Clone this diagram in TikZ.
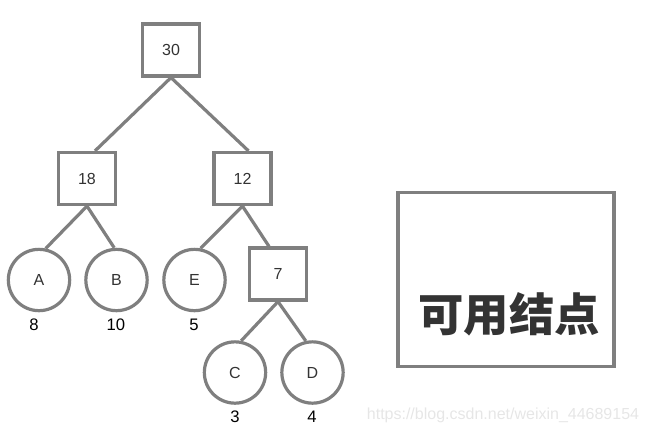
\documentclass[tikz,border=0pt]{standalone}
\usepackage{fontspec}
\setmainfont{Liberation Sans}
\newfontfamily\cjk{Noto Sans CJK SC}
\definecolor{edgegray}{HTML}{7F7F7F}
\definecolor{txt}{HTML}{333333}
\definecolor{wm}{HTML}{E6E6E6}
\begin{document}
\begin{tikzpicture}[x=0.75pt,y=-0.75pt,
  sq/.style={draw=edgegray,line width=2.4pt,fill=white,minimum width=42.75pt,minimum height=39pt,inner sep=0pt,text=txt,font=\fontsize{12}{14}\selectfont},
  leaf/.style={circle,draw=edgegray,line width=2.4pt,fill=white,minimum size=46pt,inner sep=0pt,text=txt,font=\fontsize{12}{14}\selectfont},
  lbl/.style={text=black,font=\fontsize{12.5}{14}\selectfont,inner sep=0pt},
  edge/.style={draw=edgegray,line width=2.4pt}]
\useasboundingbox (0,0) rectangle (649,436);
% nodes
\node[sq] (n30) at (171,50) {30};
\node[sq] (n18) at (87,178.5) {18};
\node[sq] (n12) at (242.5,178.5) {12};
\node[sq] (n7) at (278,274) {7};
\node[leaf] (A) at (39,280) {A};
\node[leaf] (B) at (116.5,280) {B};
\node[leaf] (E) at (194.5,280) {E};
\node[leaf] (C) at (235,372.5) {C};
\node[leaf] (D) at (312.5,372.5) {D};
% weights
\node[lbl] (wA) at (34,325) {8};
\node[lbl] (wB) at (116,325) {10};
\node[lbl] (wE) at (194,325) {5};
\node[lbl] (wC) at (235,417) {3};
\node[lbl] (wD) at (312,417) {4};
% edges
\draw[edge] (n30.south) -- ([xshift=6pt]n18.north);
\draw[edge] (n30.south) -- ([xshift=4.5pt]n12.north);
\draw[edge] (n18.south) -- (A.78);
\draw[edge] (n18.south) -- (B.94);
\draw[edge] (n12.south) -- (E.79);
\draw[edge] (n12.south) -- ([xshift=-6.75pt]n7.north);
\draw[edge] (n7.south) -- (C.79);
\draw[edge] (n7.south) -- (D.102);
% legend box
\node[draw=edgegray,line width=2.4pt,minimum width=162pt,minimum height=131pt,inner sep=0pt] (box) at (506,279.5) {};
\node[text=txt,font=\cjk\bfseries\fontsize{34}{36}\selectfont,inner sep=0pt] (lab) at (509,314) {可用结点};
% watermark
\node[text=wm,font=\fontsize{12}{14}\selectfont,inner sep=0pt] (wmk) at (503,415) {https://blog.csdn.net/weixin\_44689154};
\end{tikzpicture}
\end{document}
